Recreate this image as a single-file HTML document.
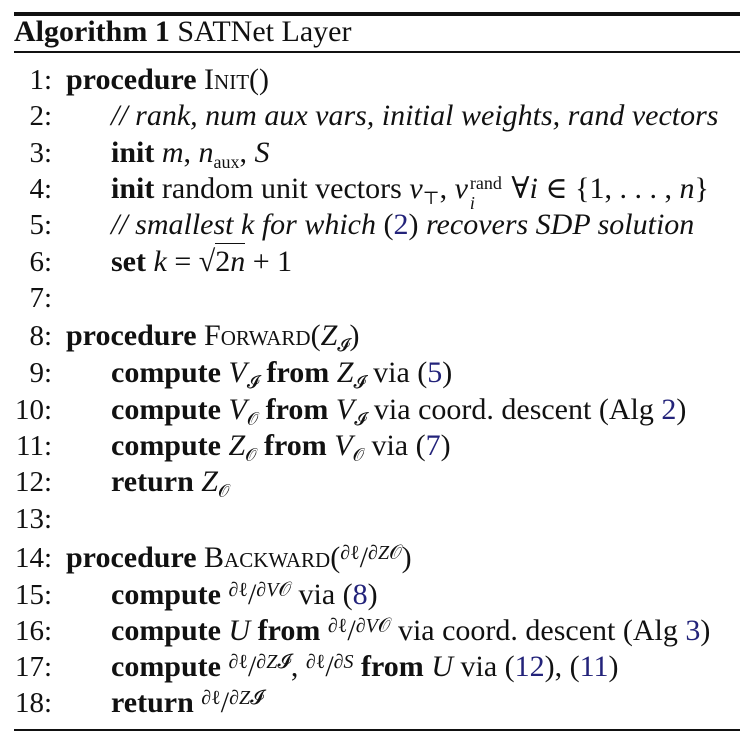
<!DOCTYPE html>
<html><head><meta charset="utf-8">
<style>
html,body{margin:0;padding:0;background:#fff;}
body{width:740px;height:741px;position:relative;overflow:hidden;font-family:"Liberation Serif","DejaVu Serif",serif;color:#111;}
.rule{position:absolute;left:14px;right:0;background:#111;}
.ln{position:absolute;font-size:30px;line-height:30px;white-space:nowrap;}
.num{position:absolute;width:52px;text-align:right;left:0;font-size:29px;line-height:30px;}
b{font-weight:bold;}
i{font-style:italic;}
.sc{font-variant:small-caps;}
.ref{color:#23237a;}
.frac{font-size:20px;position:relative;top:-8px;}
.sub{font-size:18px;position:relative;top:6px;}
.sqrt{border-top:1.5px solid #111;padding-top:1px;}
.ss{display:inline-block;position:relative;width:36px;height:30px;vertical-align:top;}
.ss .a{position:absolute;left:2px;top:-6px;font-size:18px;}
.ss .b{position:absolute;left:2px;top:14px;font-size:18px;font-style:italic;}
</style></head>
<body>
<div class="rule" style="top:12px;height:4px;"></div>
<div class="ln" style="left:14px;top:17px;"><b>Algorithm 1</b> SATNet Layer</div>
<div class="rule" style="top:51px;height:2px;"></div>

<div class="num" style="top:65px">1:</div>
<div class="ln" style="left:66px;top:65px"><b>procedure</b> <span class="sc">Init</span>()</div>

<div class="num" style="top:101px">2:</div>
<div class="ln" style="left:111px;top:101px"><i>// rank, num aux vars, initial weights, rand vectors</i></div>

<div class="num" style="top:138px">3:</div>
<div class="ln" style="left:111px;top:138px"><b>init</b> <i>m</i>, <i>n</i><span class="sub">aux</span>, <i>S</i></div>

<div class="num" style="top:174px">4:</div>
<div class="ln" style="left:111px;top:174px"><b>init</b> random unit vectors <i>v</i><span class="sub">⊤</span>, <i>v</i><span class="ss"><span class="a">rand</span><span class="b">i</span></span> ∀<i>i</i> ∈ {1, . . . , <i>n</i>}</div>

<div class="num" style="top:210px">5:</div>
<div class="ln" style="left:111px;top:210px"><i>// smallest k for which </i>(<span class="ref">2</span>)<i> recovers SDP solution</i></div>

<div class="num" style="top:247px">6:</div>
<div class="ln" style="left:111px;top:247px"><b>set</b> <i>k</i> = √<span class="sqrt">2<i>n</i></span> + 1</div>

<div class="num" style="top:283px">7:</div>

<div class="num" style="top:321px">8:</div>
<div class="ln" style="left:66px;top:321px"><b>procedure</b> <span class="sc">Forward</span>(<i>Z</i><span class="sub">𝓘</span>)</div>

<div class="num" style="top:358px">9:</div>
<div class="ln" style="left:111px;top:358px"><b>compute</b> <i>V</i><span class="sub">𝓘</span> <b>from</b> <i>Z</i><span class="sub">𝓘</span> via (<span class="ref">5</span>)</div>

<div class="num" style="top:395px">10:</div>
<div class="ln" style="left:111px;top:395px"><b>compute</b> <i>V</i><span class="sub">𝒪</span> <b>from</b> <i>V</i><span class="sub">𝓘</span> via coord. descent (Alg <span class="ref">2</span>)</div>

<div class="num" style="top:431px">11:</div>
<div class="ln" style="left:111px;top:431px"><b>compute</b> <i>Z</i><span class="sub">𝒪</span> <b>from</b> <i>V</i><span class="sub">𝒪</span> via (<span class="ref">7</span>)</div>

<div class="num" style="top:467px">12:</div>
<div class="ln" style="left:111px;top:467px"><b>return</b> <i>Z</i><span class="sub">𝒪</span></div>

<div class="num" style="top:504px">13:</div>

<div class="num" style="top:543px">14:</div>
<div class="ln" style="left:66px;top:543px"><b>procedure</b> <span class="sc">Backward</span>(<span class="frac">∂ℓ</span>/<span class="frac">∂<i>Z</i>𝒪</span>)</div>

<div class="num" style="top:580px">15:</div>
<div class="ln" style="left:111px;top:580px"><b>compute</b> <span class="frac">∂ℓ</span>/<span class="frac">∂<i>V</i>𝒪</span> via (<span class="ref">8</span>)</div>

<div class="num" style="top:616px">16:</div>
<div class="ln" style="left:111px;top:616px"><b>compute</b> <i>U</i> <b>from</b> <span class="frac">∂ℓ</span>/<span class="frac">∂<i>V</i>𝒪</span> via coord. descent (Alg <span class="ref">3</span>)</div>

<div class="num" style="top:652px">17:</div>
<div class="ln" style="left:111px;top:652px"><b>compute</b> <span class="frac">∂ℓ</span>/<span class="frac">∂<i>Z</i>𝓘</span>, <span class="frac">∂ℓ</span>/<span class="frac">∂<i>S</i></span> <b>from</b> <i>U</i> via (<span class="ref">12</span>), (<span class="ref">11</span>)</div>

<div class="num" style="top:688px">18:</div>
<div class="ln" style="left:111px;top:688px"><b>return</b> <span class="frac">∂ℓ</span>/<span class="frac">∂<i>Z</i>𝓘</span></div>

<div class="rule" style="top:729px;height:2px;"></div>
</body></html>
